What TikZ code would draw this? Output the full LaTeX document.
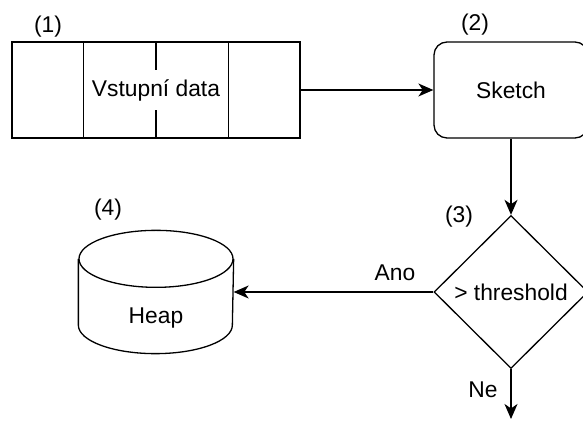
\documentclass[tikz,border=0pt]{standalone}
\usepackage{fontspec}
\setmainfont{Liberation Sans}
\usetikzlibrary{shapes.geometric, arrows.meta, positioning}

\begin{document}
\begin{tikzpicture}[x=0.5pt, y=-0.5pt, line width=0.65pt, font=\fontsize{11.4}{13.7}\selectfont, >={Stealth[length=7.5pt,width=6.5pt,inset=2.2pt]}, block/.style={draw, minimum height=48pt, inner sep=0pt}, tag/.style={inner sep=0pt}]
  \useasboundingbox (0,0) rectangle (583,421);
  \node[block, minimum width=144pt] (data) at (156,90) {};
  \draw (data.north west) ++(72,0) -- ++(0,96);
  \draw (data.north) -- (data.south);
  \draw (data.north east) ++(-72,0) -- ++(0,96);
  \node[fill=white, inner xsep=1pt, inner ysep=4.5pt] (datatext) at (data) {Vstupní data};
  \node[block, rounded corners=6.5pt, minimum width=77pt] (sketch) at (511,90) {Sketch};
  \node[draw, diamond, minimum width=77pt, minimum height=76.5pt, inner sep=0pt] (thr) at (511,292) {> threshold};
  \node[minimum width=77pt, minimum height=61pt, inner sep=0pt] (heap) at (156,292) {};
  \draw ([yshift=-14.25pt]heap.north) ellipse [x radius=38.5pt, y radius=14.25pt];
  \draw ([yshift=-14.25pt]heap.north west) -- ([yshift=14.25pt]heap.south west)
	arc[start angle=180, end angle=360, x radius=38.5pt, y radius=14.25pt] -- ([yshift=-14.25pt]heap.north east);
  \node[tag] (heaptext) at (156,318) {Heap};
  \coordinate (out) at (511,419);
  % connectors
  \draw[->] (data) -- (sketch);
  \draw[->] (sketch) -- (thr);
  \draw[->] (thr.west) -- (heap.east);
  \draw[->] (thr) -- (out);
  \node[tag] (ano) at (395,273) {Ano};
  \node[tag] (ne) at (483,390) {Ne};
  % numbers
  \node[tag] (n1) at (48,27) {(1)};
  \node[tag] (n2) at (475,25) {(2)};
  \node[tag] (n3) at (459,217) {(3)};
  \node[tag] (n4) at (108,210) {(4)};
\end{tikzpicture}
\end{document}
